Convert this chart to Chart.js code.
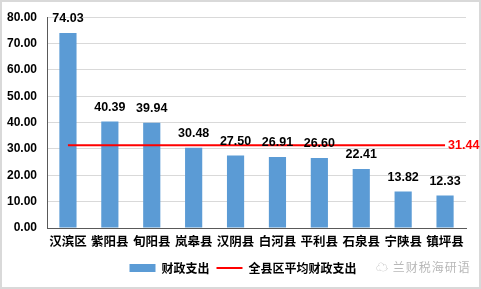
<!DOCTYPE html>
<html>
<head>
<meta charset="utf-8">
<script src="https://cdn.jsdelivr.net/npm/chart.js@4/dist/chart.umd.min.js"></script>
<style>
  html, body { margin: 0; padding: 0; background: #fff; }
  #wrap { position: relative; width: 481px; height: 289px; }
  #mark {
    position: absolute; left: 376px; top: 258px;
    font: 12px "Noto Sans CJK SC", sans-serif; color: #b8b8b8;
    letter-spacing: 1px;
  }
</style>
</head>
<body>
<div id="wrap">
  <canvas id="c" width="481" height="289"></canvas>
  <div id="mark">☁ 兰财税海研语</div>
</div>
<script>
// données
const categories = ['汉滨区', '紫阳县', '旬阳县', '岚皋县', '汉阴县', '白河县', '平利县', '石泉县', '宁陕县', '镇坪县'];
const spending = [74.03, 40.39, 39.94, 30.48, 27.50, 26.91, 26.60, 22.41, 13.82, 12.33];
const average = 31.44;
const yTicks = [0, 10, 20, 30, 40, 50, 60, 70, 80];

const cjk = '"Noto Sans CJK SC", sans-serif';
const num = '"Liberation Sans", Arial, sans-serif';

// bordure grise + étiquettes de valeurs
const labelPlugin = {
    id: 'labels',
    afterLayout(chart) {
        // la légende est un peu décalée vers la droite
        chart.legend.left += 10;
        chart.legend.right += 10;
    },
    beforeDraw(chart) {
        const ctx = chart.ctx;
        ctx.save();
        ctx.strokeStyle = '#d9d9d9';
        ctx.lineWidth = 2;
        ctx.strokeRect(1, 1, chart.width - 2, chart.height - 2);
        ctx.restore();
    },
    afterDatasetsDraw(chart) {
        const ctx = chart.ctx;
        ctx.save();
        ctx.font = 'bold 12.5px ' + num;
        ctx.fillStyle = '#000';
        ctx.textAlign = 'center';
        ctx.textBaseline = 'bottom';
        chart.getDatasetMeta(0).data.forEach((bar, i) => {
            ctx.fillText(spending[i].toFixed(2), bar.x, bar.y - 8);
        });
        const line = chart.getDatasetMeta(1).data;
        const last = line[line.length - 1];
        ctx.fillStyle = '#ff0000';
        ctx.textAlign = 'left';
        ctx.textBaseline = 'middle';
        ctx.fillText(average.toFixed(2), last.x + 3, last.y);
        ctx.restore();
    }
};

new Chart(document.getElementById('c'), {
    data: {
        labels: categories,
        datasets: [{
            type: 'bar',
            label: '财政支出',
            data: spending,
            backgroundColor: '#5b9bd5',
            barPercentage: 0.82,
            categoryPercentage: 0.5,
            order: 2
        }, {
            type: 'line',
            label: '全县区平均财政支出',
            data: categories.map(() => average),
            borderColor: '#ff0000',
            backgroundColor: '#ff0000',
            borderWidth: 2,
            pointRadius: 0,
            order: 1
        }]
    },
    options: {
        responsive: false,
        animation: false,
        layout: { padding: { top: 8, right: 15, left: 0, bottom: 5 } },
        plugins: {
            tooltip: { enabled: false },
            legend: {
                position: 'bottom',
                labels: {
                    usePointStyle: true,
                    pointStyleWidth: 26,
                    boxHeight: 8,
                    padding: 7,
                    color: '#000',
                    font: { family: cjk, size: 12, weight: 'bold' },
                    generateLabels(chart) {
                        return chart.data.datasets.map((ds, i) => ({
                            text: ds.label,
                            datasetIndex: i,
                            fillStyle: ds.backgroundColor,
                            strokeStyle: ds.type === 'line' ? '#ff0000' : '#5b9bd5',
                            lineWidth: ds.type === 'line' ? 2 : 0,
                            pointStyle: ds.type === 'line' ? 'line' : 'rect',
                            fontColor: '#000'
                        }));
                    }
                }
            }
        },
        scales: {
            x: {
                grid: { display: false, drawTicks: false },
                border: { color: '#595959', width: 1 },
                afterFit(scale) { scale.height = 27; },
                ticks: {
                    color: '#000',
                    padding: 6,
                    autoSkip: false,
                    font: { family: cjk, size: 12.5, weight: 'bold' },
                    maxRotation: 0
                }
            },
            y: {
                min: 0,
                max: 80,
                afterBuildTicks(scale) {
                    scale.ticks = yTicks.map(v => ({ value: v }));
                },
                afterFit(scale) { scale.width = 47; },
                grid: { color: '#d9d9d9', drawTicks: false },
                border: { color: '#595959', width: 1 },
                ticks: {
                    color: '#000',
                    padding: 10,
                    font: { family: num, size: 12, weight: 'bold' },
                    callback: v => v.toFixed(2)
                }
            }
        }
    },
    plugins: [labelPlugin]
});
</script>
</body>
</html>
